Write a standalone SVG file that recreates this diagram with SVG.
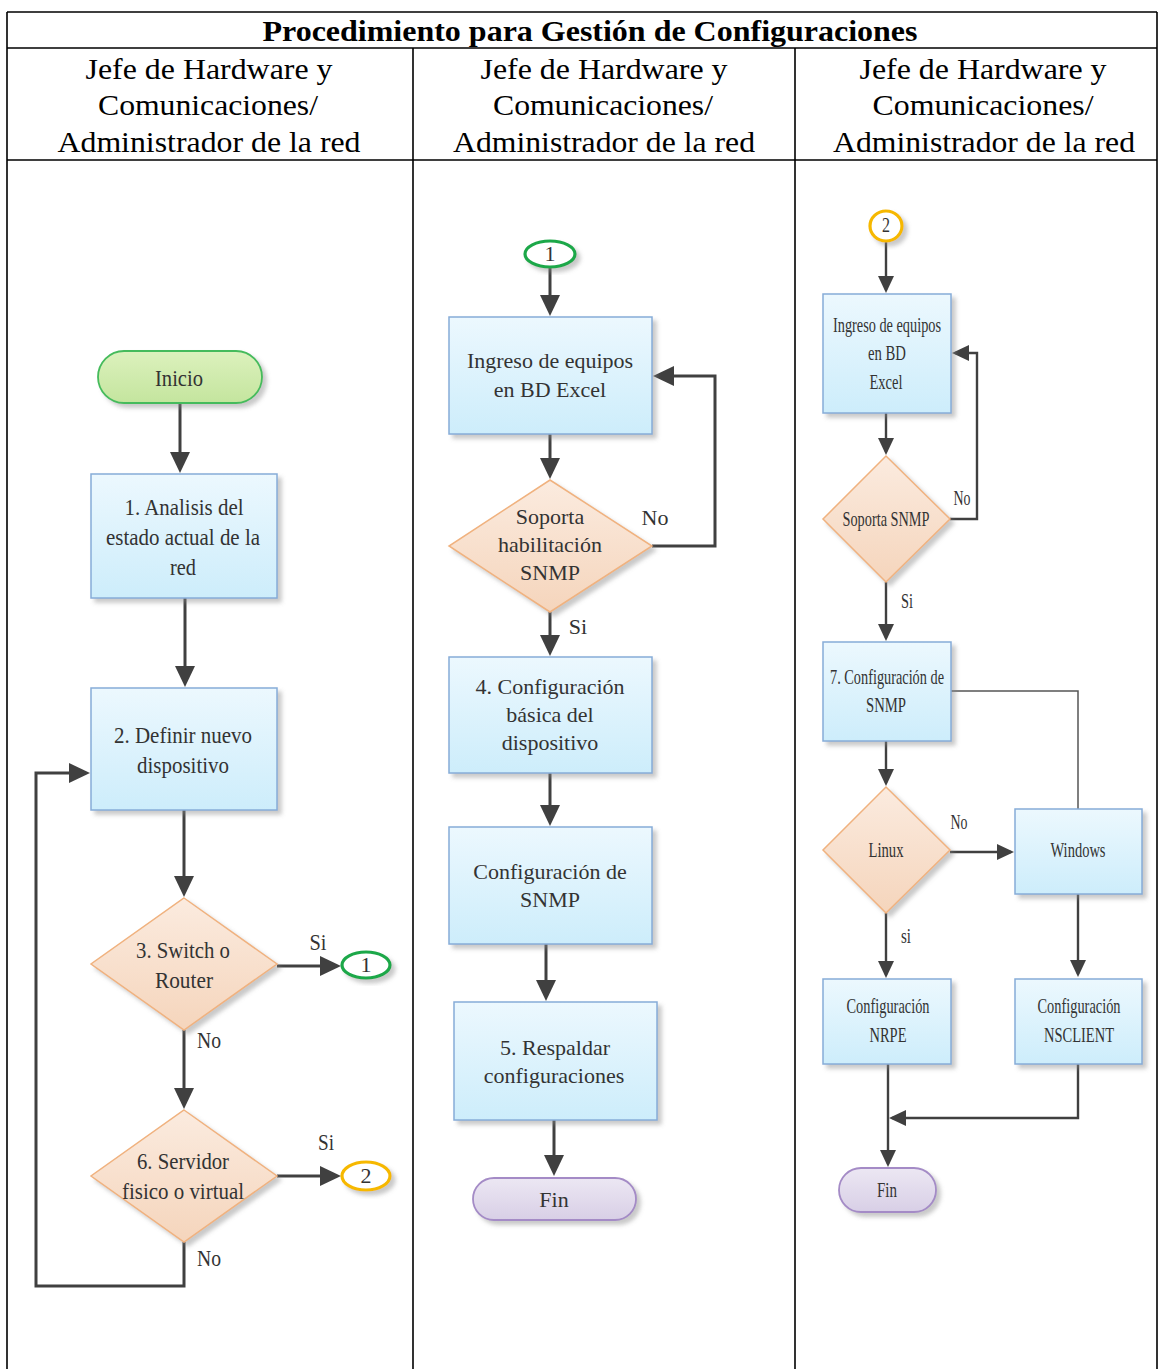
<svg xmlns="http://www.w3.org/2000/svg" width="1159" height="1369" viewBox="0 0 1159 1369">
  <style>
    .grid { stroke: #000; stroke-width: 1.6; fill: none; }
    .title { font-family: "Liberation Serif", serif; font-weight: bold; font-size: 30px; fill: #000; text-anchor: middle; }
    .hdr { font-family: "Liberation Serif", serif; font-size: 30px; fill: #000; text-anchor: middle; }
    .t { font-family: "Liberation Serif", serif; font-size: 22px; fill: #333; text-anchor: middle; }
    .tc { font-family: "Liberation Serif", serif; font-size: 24px; fill: #333; text-anchor: middle; }
    .ts { font-family: "Liberation Serif", serif; font-size: 21px; fill: #333; text-anchor: middle; }
    .box { fill: url(#gBox); stroke: #86acd8; stroke-width: 1.5; filter: url(#sh); }
    .dia { fill: url(#gDia); stroke: #f0b27f; stroke-width: 1.5; filter: url(#sh); }
    .start { fill: url(#gStart); stroke: #45bb5c; stroke-width: 1.8; filter: url(#sh); }
    .end { fill: url(#gEnd); stroke: #a48bc6; stroke-width: 1.8; filter: url(#sh); }
    .c1 { fill: #fff; stroke: #1fa84a; stroke-width: 3.2; filter: url(#sh); }
    .c2 { fill: #fff; stroke: #f6b800; stroke-width: 3.2; filter: url(#sh); }
    .ln { fill: none; stroke: #404040; stroke-width: 3; }
    .lns { fill: none; stroke: #404040; stroke-width: 2.4; }
    .thin { fill: none; stroke: #555; stroke-width: 1.5; }
  </style>
  <defs>
    <linearGradient id="gBox" x1="0" y1="0" x2="0" y2="1">
      <stop offset="0" stop-color="#ecf8fe"/>
      <stop offset="1" stop-color="#cdedfb"/>
    </linearGradient>
    <linearGradient id="gDia" x1="0" y1="0" x2="0" y2="1">
      <stop offset="0" stop-color="#fbebdf"/>
      <stop offset="1" stop-color="#f5d5bc"/>
    </linearGradient>
    <linearGradient id="gStart" x1="0" y1="0" x2="0" y2="1">
      <stop offset="0" stop-color="#dcf1bd"/>
      <stop offset="1" stop-color="#c4e59e"/>
    </linearGradient>
    <linearGradient id="gEnd" x1="0" y1="0" x2="0" y2="1">
      <stop offset="0" stop-color="#ece7f3"/>
      <stop offset="1" stop-color="#d8cfe6"/>
    </linearGradient>
    <filter id="sh" x="-20%" y="-20%" width="150%" height="150%">
      <feDropShadow dx="4" dy="4" stdDeviation="2" flood-color="#888" flood-opacity="0.45"/>
    </filter>
    <marker id="arr" markerUnits="userSpaceOnUse" markerWidth="22" markerHeight="20" refX="17" refY="10" orient="auto">
      <path d="M0,0 L21,10 L0,20 z" fill="#404040"/>
    </marker>
    <marker id="arrS" markerUnits="userSpaceOnUse" markerWidth="18" markerHeight="16" refX="14" refY="8" orient="auto">
      <path d="M0,0 L17,8 L0,16 z" fill="#404040"/>
    </marker>
  </defs>

  <rect width="1159" height="1369" fill="#fff"/>

  <!-- table frame -->
  <g id="table">
    <path class="grid" d="M7,12 H1157 M7,12 V1369 M1157,12 V1369 M7,48 H1157 M7,160 H1157 M413,48 V1369 M795,48 V1369"/>
    <text class="title" x="590" y="41" textLength="655" lengthAdjust="spacingAndGlyphs">Procedimiento para Gestión de Configuraciones</text>
    <g class="hdr">
      <text x="209" y="79" textLength="247" lengthAdjust="spacingAndGlyphs">Jefe de Hardware y</text>
      <text x="208" y="115" textLength="220" lengthAdjust="spacingAndGlyphs">Comunicaciones/</text>
      <text x="209" y="152" textLength="303" lengthAdjust="spacingAndGlyphs">Administrador de la red</text>
      <text x="604" y="79" textLength="247" lengthAdjust="spacingAndGlyphs">Jefe de Hardware y</text>
      <text x="603" y="115" textLength="220" lengthAdjust="spacingAndGlyphs">Comunicaciones/</text>
      <text x="604" y="152" textLength="302" lengthAdjust="spacingAndGlyphs">Administrador de la red</text>
      <text x="983" y="79" textLength="247" lengthAdjust="spacingAndGlyphs">Jefe de Hardware y</text>
      <text x="983" y="115" textLength="221" lengthAdjust="spacingAndGlyphs">Comunicaciones/</text>
      <text x="984" y="152" textLength="302" lengthAdjust="spacingAndGlyphs">Administrador de la red</text>
    </g>
  </g>

  <!-- connectors -->
  <g id="connectors">
    <!-- lane 1 -->
    <path class="ln" d="M180,403 V469" marker-end="url(#arr)"/>
    <path class="ln" d="M185,598 V683" marker-end="url(#arr)"/>
    <path class="ln" d="M184,810 V893" marker-end="url(#arr)"/>
    <path class="ln" d="M277,966 H337" marker-end="url(#arr)"/>
    <path class="ln" d="M184,1030 V1105" marker-end="url(#arr)"/>
    <path class="ln" d="M277,1176 H337" marker-end="url(#arr)"/>
    <path class="ln" d="M184,1242 V1286 H36 V773 H86" marker-end="url(#arr)"/>
    <!-- lane 2 -->
    <path class="ln" d="M550,268 V312" marker-end="url(#arr)"/>
    <path class="ln" d="M550,434 V475" marker-end="url(#arr)"/>
    <path class="ln" d="M652,546 H715 V376 H657" marker-end="url(#arr)"/>
    <path class="ln" d="M550,612 V652" marker-end="url(#arr)"/>
    <path class="ln" d="M550,773 V822" marker-end="url(#arr)"/>
    <path class="ln" d="M546,944 V997" marker-end="url(#arr)"/>
    <path class="ln" d="M554,1120 V1172" marker-end="url(#arr)"/>
    <!-- lane 3 -->
    <path class="lns" d="M886,242 V290" marker-end="url(#arrS)"/>
    <path class="lns" d="M886,413 V452" marker-end="url(#arrS)"/>
    <path class="lns" d="M950,519 H977 V353 H955" marker-end="url(#arrS)"/>
    <path class="lns" d="M886,582 V638" marker-end="url(#arrS)"/>
    <path class="thin" d="M951,691 H1078 V809"/>
    <path class="lns" d="M886,741 V783" marker-end="url(#arrS)"/>
    <path class="lns" d="M950,852 H1011" marker-end="url(#arrS)"/>
    <path class="lns" d="M886,913 V975" marker-end="url(#arrS)"/>
    <path class="lns" d="M1078,894 V974" marker-end="url(#arrS)"/>
    <path class="lns" d="M1078,1064 V1118 H892" marker-end="url(#arrS)"/>
    <path class="lns" d="M888,1064 V1164" marker-end="url(#arrS)"/>
  </g>

  <!-- lane 1 nodes -->
  <g id="inicio">
    <rect class="start" x="98" y="351" width="164" height="52" rx="26"/>
    <text class="tc" x="179" y="386" textLength="48" lengthAdjust="spacingAndGlyphs">Inicio</text>
  </g>
  <g id="analisis">
    <rect class="box" x="91" y="474" width="186" height="124"/>
    <text class="tc" x="184" y="515" textLength="119" lengthAdjust="spacingAndGlyphs">1. Analisis del</text>
    <text class="tc" x="183" y="545" textLength="154" lengthAdjust="spacingAndGlyphs">estado actual de la</text>
    <text class="tc" x="183" y="575" textLength="26" lengthAdjust="spacingAndGlyphs">red</text>
  </g>
  <g id="definir">
    <rect class="box" x="91" y="688" width="186" height="122"/>
    <text class="tc" x="183" y="743" textLength="138" lengthAdjust="spacingAndGlyphs">2. Definir nuevo</text>
    <text class="tc" x="183" y="773" textLength="92" lengthAdjust="spacingAndGlyphs">dispositivo</text>
  </g>
  <g id="switch-router">
    <polygon class="dia" points="184,898 277,964 184,1030 91,964"/>
    <text class="tc" x="183" y="958" textLength="94" lengthAdjust="spacingAndGlyphs">3. Switch o</text>
    <text class="tc" x="184" y="988" textLength="58" lengthAdjust="spacingAndGlyphs">Router</text>
  </g>
  <g id="servidor">
    <polygon class="dia" points="184,1110 277,1176 184,1242 91,1176"/>
    <text class="tc" x="183" y="1169" textLength="92" lengthAdjust="spacingAndGlyphs">6. Servidor</text>
    <text class="tc" x="183" y="1199" textLength="122" lengthAdjust="spacingAndGlyphs">fisico o virtual</text>
  </g>
  <g id="ref1-out">
    <ellipse class="c1" cx="366" cy="965" rx="24" ry="13"/>
    <text class="t" x="366" y="972" font-size="19">1</text>
  </g>
  <g id="ref2-out">
    <ellipse class="c2" cx="366" cy="1176" rx="24" ry="14"/>
    <text class="t" x="366" y="1183" font-size="19">2</text>
  </g>
  <g id="labels1" class="tc">
    <text x="318" y="950" textLength="17" lengthAdjust="spacingAndGlyphs">Si</text>
    <text x="209" y="1048" textLength="24" lengthAdjust="spacingAndGlyphs">No</text>
    <text x="326" y="1150" textLength="16" lengthAdjust="spacingAndGlyphs">Si</text>
    <text x="209" y="1266" textLength="24" lengthAdjust="spacingAndGlyphs">No</text>
  </g>

  <!-- lane 2 nodes -->
  <g id="ref1-in">
    <ellipse class="c1" cx="550" cy="254" rx="25" ry="13"/>
    <text class="t" x="550" y="261" font-size="19">1</text>
  </g>
  <g id="ingreso-excel">
    <rect class="box" x="449" y="317" width="203" height="117"/>
    <text class="t" x="550" y="368">Ingreso de equipos</text>
    <text class="t" x="550" y="397">en BD Excel</text>
  </g>
  <g id="soporta-habilitacion">
    <polygon class="dia" points="550,480 652,546 550,612 449,546"/>
    <text class="t" x="550" y="524">Soporta</text>
    <text class="t" x="550" y="552">habilitación</text>
    <text class="t" x="550" y="580">SNMP</text>
  </g>
  <g id="config-basica">
    <rect class="box" x="449" y="657" width="203" height="116"/>
    <text class="t" x="550" y="694">4. Configuración</text>
    <text class="t" x="550" y="722">básica del</text>
    <text class="t" x="550" y="750">dispositivo</text>
  </g>
  <g id="config-snmp">
    <rect class="box" x="449" y="827" width="203" height="117"/>
    <text class="t" x="550" y="879">Configuración de</text>
    <text class="t" x="550" y="907">SNMP</text>
  </g>
  <g id="respaldar">
    <rect class="box" x="454" y="1002" width="203" height="118"/>
    <text class="t" x="555" y="1055">5. Respaldar</text>
    <text class="t" x="554" y="1083">configuraciones</text>
  </g>
  <g id="fin1">
    <rect class="end" x="473" y="1178" width="163" height="42" rx="21"/>
    <text class="t" x="554" y="1207">Fin</text>
  </g>
  <g id="labels2" class="t">
    <text x="655" y="525">No</text>
    <text x="578" y="634">Si</text>
  </g>

  <!-- lane 3 nodes -->
  <g id="ref2-in">
    <ellipse class="c2" cx="886" cy="226" rx="16" ry="15"/>
    <text class="ts" x="886" y="232" font-size="18" textLength="8" lengthAdjust="spacingAndGlyphs">2</text>
  </g>
  <g id="ingreso-bd">
    <rect class="box" x="823" y="294" width="128" height="119"/>
    <text class="ts" x="887" y="332" textLength="108" lengthAdjust="spacingAndGlyphs">Ingreso de equipos</text>
    <text class="ts" x="887" y="360" textLength="38" lengthAdjust="spacingAndGlyphs">en BD</text>
    <text class="ts" x="886" y="389" textLength="33" lengthAdjust="spacingAndGlyphs">Excel</text>
  </g>
  <g id="soporta-snmp">
    <polygon class="dia" points="886,456 950,519 886,582 823,519"/>
    <text class="ts" x="886" y="526" font-size="19" textLength="87" lengthAdjust="spacingAndGlyphs">Soporta SNMP</text>
  </g>
  <g id="config-snmp-7">
    <rect class="box" x="823" y="642" width="128" height="99"/>
    <text class="ts" x="887" y="684" textLength="114" lengthAdjust="spacingAndGlyphs">7. Configuración de</text>
    <text class="ts" x="886" y="712" textLength="40" lengthAdjust="spacingAndGlyphs">SNMP</text>
  </g>
  <g id="linux">
    <polygon class="dia" points="886,787 950,850 886,913 823,850"/>
    <text class="ts" x="886" y="857" textLength="35" lengthAdjust="spacingAndGlyphs">Linux</text>
  </g>
  <g id="windows">
    <rect class="box" x="1015" y="809" width="127" height="85"/>
    <text class="ts" x="1078" y="857" textLength="55" lengthAdjust="spacingAndGlyphs">Windows</text>
  </g>
  <g id="config-nrpe">
    <rect class="box" x="823" y="979" width="128" height="85"/>
    <text class="ts" x="888" y="1013" textLength="83" lengthAdjust="spacingAndGlyphs">Configuración</text>
    <text class="ts" x="888" y="1042" textLength="37" lengthAdjust="spacingAndGlyphs">NRPE</text>
  </g>
  <g id="config-nsclient">
    <rect class="box" x="1015" y="979" width="127" height="85"/>
    <text class="ts" x="1079" y="1013" textLength="83" lengthAdjust="spacingAndGlyphs">Configuración</text>
    <text class="ts" x="1079" y="1042" textLength="70" lengthAdjust="spacingAndGlyphs">NSCLIENT</text>
  </g>
  <g id="fin2">
    <rect class="end" x="839" y="1168" width="97" height="44" rx="22"/>
    <text class="ts" x="887" y="1197" textLength="20" lengthAdjust="spacingAndGlyphs">Fin</text>
  </g>
  <g id="labels3" class="ts">
    <text x="962" y="505" textLength="17" lengthAdjust="spacingAndGlyphs">No</text>
    <text x="907" y="608" textLength="12" lengthAdjust="spacingAndGlyphs">Si</text>
    <text x="959" y="829" textLength="17" lengthAdjust="spacingAndGlyphs">No</text>
    <text x="906" y="943" textLength="10" lengthAdjust="spacingAndGlyphs">si</text>
  </g>
</svg>
